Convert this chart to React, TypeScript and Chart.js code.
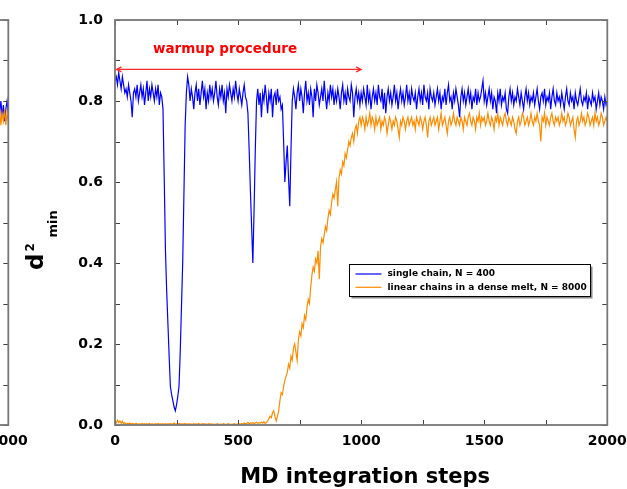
import React, { useEffect, useRef } from 'react';
import { Chart, registerables } from 'chart.js';

Chart.register(...registerables);

// ---------------- data ----------------
const SAMPLE_INTERVAL = 5; // MD steps between stored samples

const X_TICK_VALUES = [0, 250, 500, 750, 1000, 1250, 1500, 1750, 2000];
const X_TICK_LABELS = ['0', '', '500', '', '1000', '', '1500', '', '2000'];
const Y_TICK_VALUES = [0, 0.1, 0.2, 0.3, 0.4, 0.5, 0.6, 0.7, 0.8, 0.9, 1.0];
const Y_TICK_LABELS = ['0.0', '', '0.2', '', '0.4', '', '0.6', '', '0.8', '', '1.0'];

const SERIES_LABELS = ['single chain, N = 400', 'linear chains in a dense melt, N = 8000'];
const SERIES_COLORS = ['#0000ff', '#ff8c00'];

const X_TITLE = 'MD integration steps';
const WARMUP_TEXT = 'warmup procedure';
const WARMUP_START = 0;
const WARMUP_END = 1000;
const WARMUP_LEVEL = 0.878;
const WARMUP_LABEL_X = 447;
const WARMUP_LABEL_Y = 0.919;

// d^2_min of the single chain, N = 400 (steps 0..2000, every 5 steps)
const singleChain = [
  0.85, 0.86, 0.84, 0.87, 0.85, 0.83, 0.86, 0.84, 0.82, 0.83, 0.81, 0.84, 0.82, 0.80, 0.76, 0.82, 0.83, 0.81, 0.84, 0.80,
  0.82, 0.84, 0.81, 0.83, 0.79, 0.82, 0.85, 0.80, 0.83, 0.81, 0.84, 0.82, 0.80, 0.83, 0.81, 0.84, 0.79, 0.82, 0.81, 0.78,
  0.61, 0.43, 0.33, 0.25, 0.17, 0.095, 0.075, 0.06, 0.045, 0.035, 0.05, 0.07, 0.095, 0.18, 0.29, 0.40, 0.57, 0.74, 0.82, 0.86,
  0.84, 0.80, 0.83, 0.81, 0.78, 0.82, 0.84, 0.80, 0.83, 0.79, 0.82, 0.85, 0.81, 0.83, 0.78, 0.82, 0.80, 0.84, 0.81, 0.83,
  0.80, 0.82, 0.85, 0.81, 0.79, 0.83, 0.81, 0.84, 0.80, 0.82, 0.77, 0.83, 0.81, 0.84, 0.82, 0.80, 0.83, 0.81, 0.85, 0.82,
  0.80, 0.83, 0.81, 0.79, 0.82, 0.84, 0.81, 0.80, 0.77, 0.68, 0.58, 0.49, 0.40, 0.53, 0.68, 0.80, 0.83, 0.79, 0.82, 0.76,
  0.82, 0.80, 0.84, 0.81, 0.77, 0.82, 0.80, 0.83, 0.76, 0.81, 0.82, 0.79, 0.83, 0.80, 0.81, 0.78, 0.79, 0.70, 0.60, 0.65,
  0.69, 0.61, 0.54, 0.68, 0.80, 0.83, 0.81, 0.78, 0.82, 0.84, 0.80, 0.83, 0.81, 0.77, 0.82, 0.85, 0.80, 0.82, 0.79, 0.83,
  0.81, 0.76, 0.83, 0.80, 0.84, 0.82, 0.79, 0.81, 0.83, 0.80, 0.85, 0.81, 0.78, 0.82, 0.80, 0.84, 0.81, 0.83, 0.79, 0.82,
  0.80, 0.83, 0.81, 0.78, 0.82, 0.84, 0.80, 0.82, 0.79, 0.83, 0.81, 0.80, 0.84, 0.82, 0.76, 0.81, 0.83, 0.80, 0.82, 0.79,
  0.82, 0.80, 0.83, 0.81, 0.79, 0.84, 0.80, 0.82, 0.78, 0.81, 0.83, 0.80, 0.82, 0.79, 0.84, 0.81, 0.80, 0.83, 0.78, 0.82,
  0.77, 0.81, 0.83, 0.80, 0.82, 0.79, 0.81, 0.84, 0.80, 0.82, 0.78, 0.81, 0.83, 0.80, 0.82, 0.79, 0.81, 0.84, 0.80, 0.82,
  0.79, 0.83, 0.81, 0.80, 0.82, 0.78, 0.81, 0.83, 0.80, 0.82, 0.79, 0.84, 0.81, 0.80, 0.82, 0.78, 0.83, 0.81, 0.80, 0.82,
  0.79, 0.81, 0.83, 0.80, 0.82, 0.78, 0.81, 0.80, 0.83, 0.79, 0.82, 0.84, 0.80, 0.81, 0.78, 0.82, 0.80, 0.83, 0.81, 0.79,
  0.76, 0.81, 0.83, 0.80, 0.82, 0.79, 0.81, 0.83, 0.80, 0.82, 0.78, 0.81, 0.80, 0.83, 0.79, 0.82, 0.80, 0.81, 0.83, 0.85,
  0.80, 0.82, 0.79, 0.81, 0.83, 0.80, 0.82, 0.78, 0.81, 0.80, 0.77, 0.82, 0.80, 0.83, 0.79, 0.81, 0.80, 0.82, 0.78, 0.77,
  0.81, 0.83, 0.80, 0.82, 0.79, 0.81, 0.80, 0.83, 0.81, 0.79, 0.82, 0.80, 0.78, 0.81, 0.83, 0.80, 0.82, 0.79, 0.81, 0.80,
  0.82, 0.79, 0.81, 0.83, 0.80, 0.78, 0.81, 0.82, 0.80, 0.83, 0.79, 0.81, 0.80, 0.82, 0.78, 0.81, 0.83, 0.80, 0.79, 0.82,
  0.80, 0.81, 0.79, 0.82, 0.80, 0.78, 0.81, 0.83, 0.80, 0.79, 0.82, 0.80, 0.81, 0.78, 0.82, 0.80, 0.79, 0.81, 0.83, 0.80,
  0.79, 0.81, 0.80, 0.82, 0.78, 0.81, 0.80, 0.79, 0.82, 0.80, 0.81, 0.78, 0.80, 0.82, 0.79, 0.81, 0.80, 0.78, 0.81, 0.79,
  0.80,
];

// d^2_min of linear chains in a dense melt, N = 8000 (steps 0..2000, every 5 steps)
const meltChains = [
  0.008, 0.005, 0.012, 0.006, 0.010, 0.004, 0.009, 0.003, 0.006, 0.002, 0.004, 0.003, 0.005, 0.002, 0.004, 0.003, 0.002, 0.004, 0.003, 0.002,
  0.003, 0.002, 0.004, 0.002, 0.003, 0.001, 0.003, 0.002, 0.004, 0.002, 0.003, 0.002, 0.001, 0.003, 0.002, 0.004, 0.002, 0.003, 0.002, 0.003,
  0.002, 0.003, 0.001, 0.003, 0.002, 0.004, 0.002, 0.003, 0.005, 0.002, 0.003, 0.002, 0.004, 0.003, 0.002, 0.003, 0.002, 0.004, 0.002, 0.003,
  0.002, 0.003, 0.002, 0.001, 0.003, 0.002, 0.003, 0.002, 0.004, 0.002, 0.001, 0.003, 0.002, 0.003, 0.002, 0.001, 0.003, 0.002, 0.003, 0.002,
  0.001, 0.002, 0.001, 0.003, 0.002, 0.001, 0.002, 0.001, 0.003, 0.002, 0.001, 0.002, 0.003, 0.001, 0.002, 0.001, 0.002, 0.003, 0.001, 0.002,
  0.002, 0.003, 0.002, 0.004, 0.002, 0.005, 0.003, 0.004, 0.006, 0.003, 0.005, 0.004, 0.006, 0.003, 0.005, 0.007, 0.004, 0.006, 0.005, 0.007,
  0.005, 0.008, 0.004, 0.006, 0.010, 0.015, 0.022, 0.018, 0.030, 0.035, 0.020, 0.010, 0.022, 0.035, 0.060, 0.080, 0.075, 0.095, 0.110, 0.120,
  0.13, 0.15, 0.14, 0.17, 0.16, 0.19, 0.20, 0.18, 0.16, 0.21, 0.23, 0.22, 0.25, 0.24, 0.27, 0.26, 0.29, 0.31, 0.30, 0.34,
  0.37, 0.39, 0.38, 0.41, 0.40, 0.43, 0.36, 0.44, 0.46, 0.45, 0.47, 0.49, 0.48, 0.51, 0.53, 0.52, 0.55, 0.57, 0.56, 0.58,
  0.60, 0.54, 0.61, 0.63, 0.62, 0.65, 0.64, 0.67, 0.66, 0.68, 0.70, 0.69, 0.71, 0.72, 0.70, 0.73, 0.74, 0.72, 0.75, 0.76,
  0.74, 0.76, 0.75, 0.73, 0.76, 0.74, 0.75, 0.77, 0.74, 0.76, 0.75, 0.73, 0.76, 0.74, 0.75, 0.76, 0.73, 0.75, 0.74, 0.76,
  0.75, 0.72, 0.74, 0.76, 0.75, 0.73, 0.75, 0.74, 0.76, 0.75, 0.73, 0.71, 0.75, 0.74, 0.76, 0.75, 0.73, 0.75, 0.76, 0.74,
  0.75, 0.76, 0.74, 0.75, 0.73, 0.76, 0.75, 0.74, 0.76, 0.75, 0.73, 0.75, 0.76, 0.74, 0.71, 0.75, 0.76, 0.74, 0.75, 0.76,
  0.74, 0.75, 0.76, 0.73, 0.75, 0.77, 0.74, 0.75, 0.76, 0.74, 0.72, 0.75, 0.76, 0.74, 0.75, 0.77, 0.75, 0.74, 0.76, 0.75,
  0.74, 0.76, 0.75, 0.73, 0.76, 0.75, 0.74, 0.76, 0.77, 0.75, 0.74, 0.76, 0.75, 0.73, 0.76, 0.75, 0.77, 0.74, 0.76, 0.75,
  0.76, 0.74, 0.75, 0.77, 0.75, 0.74, 0.76, 0.75, 0.73, 0.76, 0.75, 0.77, 0.74, 0.76, 0.75, 0.74, 0.76, 0.77, 0.75, 0.74,
  0.76, 0.75, 0.74, 0.76, 0.75, 0.73, 0.72, 0.75, 0.76, 0.74, 0.75, 0.77, 0.76, 0.74, 0.75, 0.76, 0.74, 0.75, 0.77, 0.75,
  0.74, 0.76, 0.75, 0.77, 0.75, 0.74, 0.70, 0.76, 0.75, 0.77, 0.74, 0.76, 0.75, 0.74, 0.76, 0.77, 0.75, 0.74, 0.76, 0.75,
  0.76, 0.74, 0.75, 0.77, 0.75, 0.76, 0.74, 0.75, 0.77, 0.76, 0.74, 0.75, 0.76, 0.73, 0.71, 0.75, 0.76, 0.74, 0.75, 0.77,
  0.75, 0.76, 0.74, 0.75, 0.77, 0.76, 0.74, 0.75, 0.76, 0.74, 0.77, 0.75, 0.76, 0.74, 0.75, 0.77, 0.76, 0.74, 0.75, 0.76,
  0.75,
];

// neighbouring (cropped) panel: only its last steps are visible
const LEFT_PANEL_FIRST_STEP = 1960;
const leftSingle = [0.79, 0.77, 0.80, 0.76, 0.79, 0.75, 0.78, 0.80, 0.77];
const leftMelt = [0.76, 0.78, 0.74, 0.77, 0.75, 0.78, 0.74, 0.77, 0.75];

// ---------------- helpers ----------------
const FONT = 'DejaVu Sans';
const toPoints = (vals: number[], first: number) =>
  vals.map((v, i) => ({ x: first + i * SAMPLE_INTERVAL, y: v }));

const framePlugin = {
  id: 'frame',
  afterDraw(chart: any) {
    const { ctx, chartArea: a, scales } = chart;
    ctx.save();
    ctx.strokeStyle = '#444';
    ctx.lineWidth = 1;
    const tl = 5;
    for (const v of Y_TICK_VALUES) {
      const py = Math.round(scales.y.getPixelForValue(v)) + 0.5;
      ctx.beginPath();
      ctx.moveTo(a.left, py);
      ctx.lineTo(a.left + tl, py);
      ctx.moveTo(a.right, py);
      ctx.lineTo(a.right - tl, py);
      ctx.stroke();
    }
    for (const v of X_TICK_VALUES) {
      const px = Math.round(scales.x.getPixelForValue(v)) + 0.5;
      ctx.beginPath();
      ctx.moveTo(px, a.bottom);
      ctx.lineTo(px, a.bottom - tl);
      ctx.moveTo(px, a.top);
      ctx.lineTo(px, a.top + tl);
      ctx.stroke();
    }
    ctx.strokeStyle = '#777';
    ctx.lineWidth = 1.8;
    ctx.strokeRect(a.left, a.top, a.right - a.left, a.bottom - a.top);
    ctx.restore();
  },
};

const annotationPlugin = {
  id: 'annotations',
  afterDraw(chart: any) {
    const { ctx, scales, chartArea: a } = chart;
    const x = scales.x;
    const y = scales.y;
    ctx.save();
    // warmup arrow
    const x0 = x.getPixelForValue(WARMUP_START) + 1.5;
    const x1 = x.getPixelForValue(WARMUP_END);
    const ya = y.getPixelForValue(WARMUP_LEVEL);
    ctx.strokeStyle = '#ff2a2a';
    ctx.lineWidth = 1.3;
    ctx.beginPath();
    ctx.moveTo(x0, ya);
    ctx.lineTo(x1, ya);
    ctx.moveTo(x0 + 5, ya - 2.5);
    ctx.lineTo(x0, ya);
    ctx.lineTo(x0 + 5, ya + 2.5);
    ctx.moveTo(x1 - 5, ya - 2.5);
    ctx.lineTo(x1, ya);
    ctx.lineTo(x1 - 5, ya + 2.5);
    ctx.stroke();
    ctx.fillStyle = '#ff0000';
    ctx.font = `bold 13.5px "${FONT}"`;
    ctx.textAlign = 'center';
    ctx.textBaseline = 'alphabetic';
    ctx.fillText(WARMUP_TEXT, x.getPixelForValue(WARMUP_LABEL_X), y.getPixelForValue(WARMUP_LABEL_Y));

    // x title
    ctx.fillStyle = '#000';
    ctx.font = `bold 21px "${FONT}"`;
    ctx.fillText(X_TITLE, (a.left + a.right) / 2 + 4, 482.5);

    // y title d^2_min (rotated)
    ctx.save();
    ctx.translate(43, 270);
    ctx.rotate(-Math.PI / 2);
    ctx.textAlign = 'left';
    ctx.font = `bold 23px "${FONT}"`;
    ctx.fillText('d', 0, 0);
    const dw = ctx.measureText('d').width;
    ctx.font = `bold 12px "${FONT}"`;
    ctx.fillText('2', dw + 2, -9.5);
    ctx.font = `bold 13px "${FONT}"`;
    ctx.fillText('min', dw + 16, 13.5);
    ctx.restore();

    // legend
    const bx = 349.5, by = 264.5, bw = 241, bh = 32;
    ctx.fillStyle = '#8a8a8a';
    ctx.fillRect(bx + 2, by + 2, bw, bh);
    ctx.fillStyle = '#fff';
    ctx.fillRect(bx, by, bw, bh);
    ctx.strokeStyle = '#000';
    ctx.lineWidth = 1;
    ctx.strokeRect(bx, by, bw, bh);
    ctx.font = `bold 9px "${FONT}"`;
    ctx.textAlign = 'left';
    ctx.textBaseline = 'middle';
    chart.data.datasets.forEach((ds: any, i: number) => {
      const ly = by + 9.5 + i * 13.3;
      ctx.strokeStyle = ds.borderColor;
      ctx.lineWidth = 1.2;
      ctx.beginPath();
      ctx.moveTo(bx + 6, ly);
      ctx.lineTo(bx + 32, ly);
      ctx.stroke();
      ctx.fillStyle = '#000';
      ctx.fillText(ds.label, bx + 38, ly);
    });
    ctx.restore();
  },
};

function makeOptions(): any {
  const tickFont = { family: FONT, weight: 'bold', size: 14 };
  return {
    responsive: false,
    animation: false,
    events: [],
    layout: { padding: { top: 20, right: 19.7, left: 0, bottom: 0 } },
    plugins: { legend: { display: false }, tooltip: { enabled: false }, title: { display: false } },
    elements: { point: { radius: 0 }, line: { tension: 0 } },
    scales: {
      x: {
        type: 'linear',
        min: 0,
        max: 2000,
        afterFit: (s: any) => {
          s.height = 64;
          s.paddingLeft = 0;
          s.paddingRight = 0;
        },
        afterBuildTicks: (s: any) => {
          s.ticks = X_TICK_VALUES.map((value) => ({ value }));
        },
        ticks: {
          autoSkip: false,
          maxRotation: 0,
          minRotation: 0,
          padding: 8,
          color: '#000',
          font: tickFont,
          callback: (_v: any, i: number) => X_TICK_LABELS[i],
        },
        grid: { display: false, drawTicks: false },
        border: { display: false },
      },
      y: {
        type: 'linear',
        min: 0,
        max: 1,
        afterFit: (s: any) => {
          s.width = 115;
          s.paddingTop = 0;
          s.paddingBottom = 0;
        },
        afterBuildTicks: (s: any) => {
          s.ticks = Y_TICK_VALUES.map((value) => ({ value }));
        },
        ticks: {
          autoSkip: false,
          padding: 12,
          color: '#000',
          font: tickFont,
          callback: (_v: any, i: number) => Y_TICK_LABELS[i],
        },
        grid: { display: false, drawTicks: false },
        border: { display: false },
      },
    },
  };
}

export default function App() {
  const mainRef = useRef<HTMLCanvasElement>(null);
  const leftRef = useRef<HTMLCanvasElement>(null);

  useEffect(() => {
    const main = new Chart(mainRef.current as HTMLCanvasElement, {
      type: 'line',
      data: {
        datasets: [
          {
            label: SERIES_LABELS[0],
            data: toPoints(singleChain, 0),
            borderColor: SERIES_COLORS[0],
            borderWidth: 1.2,
            pointRadius: 0,
            fill: false,
          },
          {
            label: SERIES_LABELS[1],
            data: toPoints(meltChains, 0),
            borderColor: SERIES_COLORS[1],
            borderWidth: 1.2,
            pointRadius: 0,
            fill: false,
          },
        ],
      },
      options: makeOptions(),
      plugins: [framePlugin, annotationPlugin],
    });
    const left = new Chart(leftRef.current as HTMLCanvasElement, {
      type: 'line',
      data: {
        datasets: [
          {
            label: SERIES_LABELS[1],
            data: toPoints(leftMelt, LEFT_PANEL_FIRST_STEP),
            borderColor: SERIES_COLORS[1],
            borderWidth: 1.2,
            pointRadius: 0,
            fill: false,
          },
          {
            label: SERIES_LABELS[0],
            data: toPoints(leftSingle, LEFT_PANEL_FIRST_STEP),
            borderColor: SERIES_COLORS[0],
            borderWidth: 1.2,
            pointRadius: 0,
            fill: false,
          },
        ],
      },
      options: makeOptions(),
      plugins: [framePlugin],
    });
    return () => {
      main.destroy();
      left.destroy();
    };
  }, []);

  return (
    <div
      style={{
        position: 'fixed',
        left: 0,
        top: 0,
        width: 627,
        height: 489,
        overflow: 'hidden',
        background: '#fff',
      }}
    >
      <canvas ref={leftRef} width={627} height={489} style={{ position: 'absolute', left: -599, top: 0 }} />
      <canvas ref={mainRef} width={627} height={489} style={{ position: 'absolute', left: 0, top: 0 }} />
    </div>
  );
}
